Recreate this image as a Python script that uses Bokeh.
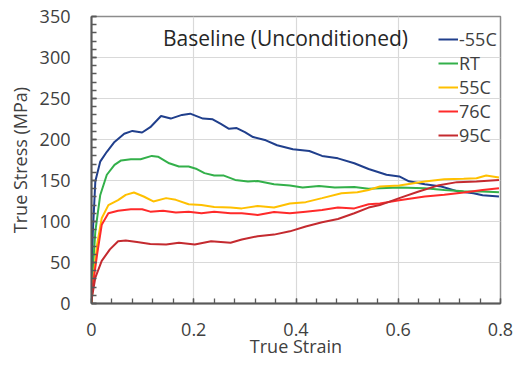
from bokeh.plotting import figure
from bokeh.models import Range1d, FixedTicker, Label, Legend, LegendItem
from bokeh.embed import file_html
from bokeh.resources import INLINE

# ---- data ----
x_m55 = [0, 0.0025, 0.0075, 0.017, 0.03, 0.045, 0.064, 0.08, 0.099, 0.115, 0.136, 0.155, 0.177, 0.193,
         0.218, 0.237, 0.253, 0.269, 0.284, 0.30, 0.316, 0.341, 0.363, 0.394, 0.426, 0.451, 0.482, 0.514,
         0.542, 0.577, 0.602, 0.621, 0.652, 0.684, 0.715, 0.747, 0.765, 0.797]
y_m55 = [0, 85, 149, 173, 185, 197, 207, 210.5, 208.5, 215, 228.7, 225.5, 230, 231.5,
         225.5, 224.6, 219, 213, 214, 209, 203, 199, 193, 188, 186, 180, 177, 171,
         164, 157, 155, 149, 145.5, 142.6, 137, 134.5, 132, 130.5]

x_rt = [0, 0.0025, 0.0075, 0.017, 0.03, 0.045, 0.058, 0.077, 0.096, 0.118, 0.13, 0.152, 0.171, 0.19,
        0.206, 0.221, 0.24, 0.259, 0.281, 0.306, 0.325, 0.357, 0.388, 0.413, 0.445, 0.476, 0.514, 0.542,
        0.564, 0.602, 0.652, 0.69, 0.728, 0.765, 0.797]
y_rt = [0, 40, 88, 132, 157, 169, 174.5, 176, 176, 180, 179, 171, 167, 167,
        164, 159, 156, 156, 150.7, 148.7, 149.5, 145.5, 144, 141.4, 143.4, 141.4, 142, 140,
        140.6, 141.4, 140.6, 138.5, 137, 136.6, 135.8]

x_55 = [0, 0.0025, 0.011, 0.02, 0.033, 0.052, 0.067, 0.083, 0.102, 0.121, 0.146, 0.165, 0.19, 0.215,
        0.24, 0.272, 0.294, 0.325, 0.357, 0.388, 0.419, 0.451, 0.489, 0.52, 0.542, 0.564, 0.602, 0.652,
        0.69, 0.728, 0.753, 0.772, 0.797]
y_55 = [0, 23, 72, 104, 120, 126, 132.5, 135.4, 130.5, 124.5, 128.5, 126.4, 121, 120,
        117.6, 117, 116, 119, 117, 122, 123.6, 128.5, 134.5, 135.8, 138.5, 142.6, 143.8, 148.7,
        151.5, 152, 152.7, 156, 153.6]

x_76 = [0, 0.001, 0.011, 0.02, 0.033, 0.052, 0.077, 0.099, 0.115, 0.14, 0.165, 0.19, 0.215, 0.24,
        0.272, 0.294, 0.325, 0.357, 0.388, 0.419, 0.451, 0.482, 0.514, 0.542, 0.564, 0.602, 0.652,
        0.69, 0.728, 0.765, 0.797]
y_76 = [0, 15, 60, 96, 110, 113, 115, 115, 112, 113, 111, 112, 110, 112,
        110, 110, 108, 111.5, 110, 112, 114, 117, 116, 121, 122, 126, 130.5,
        132.5, 135.4, 138.5, 140.6]

x_95 = [0, 0.0075, 0.02, 0.036, 0.052, 0.067, 0.089, 0.115, 0.146, 0.171, 0.202, 0.234, 0.272, 0.294,
        0.325, 0.357, 0.388, 0.419, 0.451, 0.482, 0.514, 0.542, 0.564, 0.602, 0.64, 0.677, 0.715,
        0.753, 0.797]
y_95 = [4, 31.5, 52, 66, 76, 76.7, 75, 72.7, 72, 74, 72, 76, 74, 78,
        82, 84, 88, 94, 99, 103, 110, 117, 120, 128.5, 136.6, 143.8, 148,
        148.7, 150.7]

series_names = ["-55C", "RT", "55C", "76C", "95C"]
series_x = [x_m55, x_rt, x_55, x_76, x_95]
series_y = [y_m55, y_rt, y_55, y_76, y_95]
series_colors = ["#203F8C", "#33B04A", "#FFC000", "#FF2A2A", "#C42A2F"]

x_ticks = [0, 0.2, 0.4, 0.6, 0.8]
x_tick_labels = ["0", "0.2", "0.4", "0.6", "0.8"]
x_minor_step = 0.04
y_ticks = [0, 50, 100, 150, 200, 250, 300, 350]
y_minor_step = 10

title_text = "Baseline (Unconditioned)"
x_label = "True Strain"
y_label = "True Stress (MPa)"

FONT = "Open Sans"
TXT = "#404040"
AX = "#595959"

X0, X1, Y0, Y1 = 0, 0.8, 0, 350
p = figure(width=513, height=360, output_backend="svg", toolbar_location=None,
           x_range=Range1d(X0, X1), y_range=Range1d(Y0, Y1),
           min_border_left=91, min_border_right=13, min_border_top=16, min_border_bottom=54)
p.background_fill_color = "white"
p.border_fill_color = "white"
p.outline_line_color = "#8c8c8c"
p.outline_line_width = 1.5

n_xm = int(round((X1 - X0) / x_minor_step))
n_ym = int(round((Y1 - Y0) / y_minor_step))
p.xaxis.ticker = FixedTicker(ticks=x_ticks, minor_ticks=[X0 + i * x_minor_step for i in range(n_xm + 1)])
p.yaxis.ticker = FixedTicker(ticks=y_ticks, minor_ticks=[Y0 + i * y_minor_step for i in range(n_ym + 1)])
p.xaxis.major_label_overrides = {t: l for t, l in zip(x_ticks, x_tick_labels)}

for ax in (p.xaxis, p.yaxis):
    ax.axis_line_color = AX
    ax.axis_line_width = 2
    ax.major_tick_line_color = AX
    ax.minor_tick_line_color = AX
    ax.major_tick_line_width = 1.3
    ax.minor_tick_line_width = 1.3
    ax.major_tick_in = 5
    ax.major_tick_out = 0
    ax.minor_tick_in = 5
    ax.minor_tick_out = 0
    ax.major_label_text_font = FONT
    ax.major_label_text_font_size = "18px"
    ax.major_label_text_color = TXT
    ax.axis_label_text_font = FONT
    ax.axis_label_text_font_size = "18px"
    ax.axis_label_text_font_style = "normal"
    ax.axis_label_text_color = TXT

p.xaxis.axis_label = x_label
p.yaxis.axis_label = y_label
p.xaxis.major_label_standoff = 19
p.yaxis.major_label_standoff = 21
p.xaxis.axis_label_standoff = -5
p.yaxis.axis_label_standoff = 5

p.xgrid.grid_line_color = "#d9d9d9"
p.ygrid.grid_line_color = "#d9d9d9"
p.xgrid.grid_line_width = 1.2
p.ygrid.grid_line_width = 1.2

items = []
for name, xs, ys, c in zip(series_names, series_x, series_y, series_colors):
    r = p.line(xs, ys, line_color=c, line_width=2)
    items.append(LegendItem(label=name, renderers=[r]))

legend = Legend(items=items, location=(347, 156))
legend.background_fill_alpha = 0
legend.border_line_alpha = 0
legend.padding = 0
legend.margin = 0
legend.spacing = 0
legend.label_height = 20
legend.glyph_height = 20
legend.glyph_width = 20
legend.label_standoff = 1
legend.label_text_font = FONT
legend.label_text_font_size = "18px"
legend.label_text_color = TXT
p.add_layout(legend, "center")

p.add_layout(Label(x=0.3795, y=324, text=title_text, text_align="center", text_baseline="middle",
                   text_font=FONT, text_font_size="21px", text_color="#262626"))

open("out.html", "w").write(file_html(p, INLINE))
